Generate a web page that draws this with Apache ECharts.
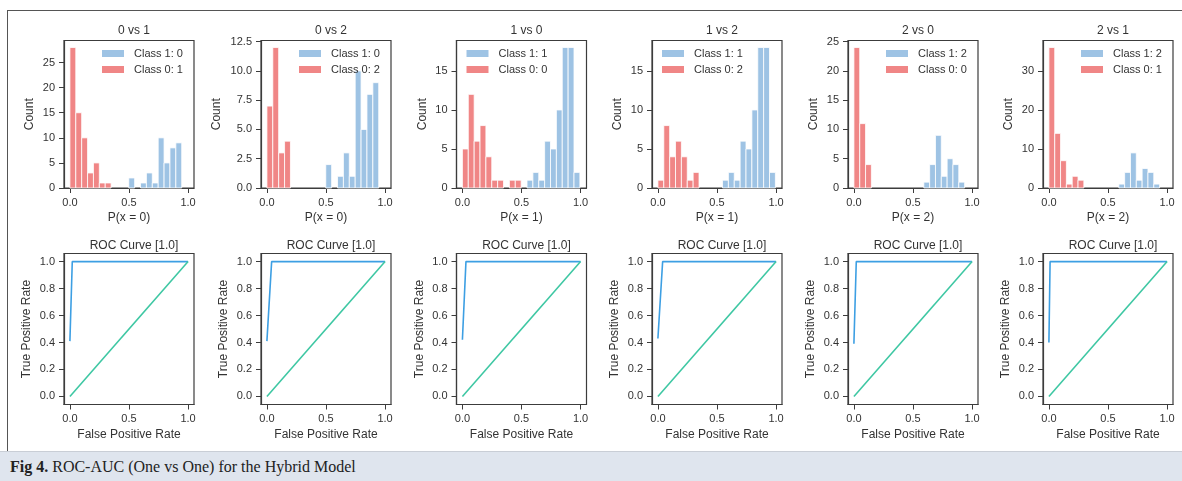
<!DOCTYPE html>
<html>
<head>
<meta charset="utf-8">
<script src="https://cdn.jsdelivr.net/npm/echarts@6/dist/echarts.min.js"></script>
<style>
  html, body { margin: 0; padding: 0; background: #fff; }
  #frame { position: absolute; left: 7px; top: 10px; width: 1175px; height: 441px;
           border-left: 1px solid #555; border-top: 1px solid #555; box-sizing: border-box; }
  #main { position: absolute; left: 0; top: 0; width: 1182px; height: 451px; }
  #caption { position: absolute; left: 0; top: 451px; width: 1182px; height: 30px;
             background: #dfe5ee; border-top: 1px solid #c9ced6; box-sizing: border-box;
             font-family: "Liberation Serif", "DejaVu Serif", serif; font-size: 16px;
             color: #222; line-height: 30px; padding-left: 10px; }
</style>
</head>
<body>
<div id="frame"></div>
<div id="main"></div>
<div id="caption"><b>Fig 4.</b> ROC-AUC (One vs One) for the Hybrid Model</div>
<script>
(function() {

    // panel texts
    var panelTitles = ['0 vs 1', '0 vs 2', '1 vs 0', '1 vs 2', '2 vs 0', '2 vs 1'];
    var probLabels = ['P(x = 0)', 'P(x = 0)', 'P(x = 1)', 'P(x = 1)', 'P(x = 2)', 'P(x = 2)'];
    var class1Names = ['Class 1: 0', 'Class 1: 0', 'Class 1: 1', 'Class 1: 1', 'Class 1: 2', 'Class 1: 2'];
    var class0Names = ['Class 0: 1', 'Class 0: 2', 'Class 0: 0', 'Class 0: 2', 'Class 0: 0', 'Class 0: 1'];
    var rocTitles = ['ROC Curve [1.0]', 'ROC Curve [1.0]', 'ROC Curve [1.0]', 'ROC Curve [1.0]', 'ROC Curve [1.0]', 'ROC Curve [1.0]'];

    // histogram bins (start at 0, one width per panel)
    var binWidths = [0.0498, 0.0498, 0.0497, 0.0497, 0.0493, 0.0493];

    // counts per bin, blue = class 1, red = class 0
    var blue01 = [0, 0, 0, 0, 0, 0, 0, 0, 0, 0, 2, 0, 1, 3, 1, 10, 5, 8, 9];
    var red01  = [28, 15, 10, 3, 5, 1, 1];
    var blue02 = [0, 0, 0, 0, 0, 0, 0, 0, 0, 0, 2, 0, 1, 3, 1, 10, 5, 8, 9];
    var red02  = [7, 12, 3, 4];
    var blue10 = [0, 0, 0, 0, 0, 0, 0, 0, 0, 0, 0, 1, 2, 1, 6, 5, 10, 18, 18, 2];
    var red10  = [5, 12, 6, 8, 4, 1, 1, 0, 1, 1];
    var blue12 = [0, 0, 0, 0, 0, 0, 0, 0, 0, 0, 0, 1, 2, 1, 6, 5, 10, 18, 18, 2];
    var red12  = [1, 8, 4, 6, 4, 1, 2];
    var blue20 = [0, 0, 0, 0, 0, 0, 0, 0, 0, 0, 0, 0, 1, 4, 9, 2, 5, 4, 1];
    var red20  = [24, 11, 4];
    var blue21 = [0, 0, 0, 0, 0, 0, 0, 0, 0, 0, 0, 0, 1, 4, 9, 2, 5, 4, 1];
    var red21  = [36, 14, 7, 1, 3, 2];

    var blueCounts = [blue01, blue02, blue10, blue12, blue20, blue21];
    var redCounts = [red01, red02, red10, red12, red20, red21];
    var countStep = [5, 2.5, 5, 5, 5, 10];

    // roc curves
    var rocFpr = [[0, 0.02, 1], [0, 0.04, 1], [0, 0.03, 1], [0, 0.04, 1], [0, 0.02, 1], [0, 0.01, 1]];
    var rocTpr = [[0.41, 1, 1], [0.41, 1, 1], [0.42, 1, 1], [0.43, 1, 1], [0.39, 1, 1], [0.40, 1, 1]];
    var chanceFpr = [0, 1];
    var chanceTpr = [0, 1];

    var legendSide = ['right', 'right', 'left', 'left', 'right', 'right'];

    // layout
    var colLeft = [64, 261, 456.5, 652, 848, 1043];
    var boxW = 130;
    var histTop = 40.5, histH = 147.5;
    var rocTop = 253.5, rocH = 151;

    var BLUE = '#9ec3e4', RED = '#f08686';
    var FONT = '"Liberation Sans", Arial, sans-serif';
    var TXT = '#333';

    var myChart = echarts.init(document.getElementById('main'));

    function renderBin(params, api) {
        var p0 = api.coord([api.value(0), 0]);
        var p1 = api.coord([api.value(1), api.value(2)]);
        return {
            type: 'rect',
            shape: { x: p0[0], y: p1[1], width: p1[0] - p0[0], height: p0[1] - p1[1] },
            style: { fill: api.visual('color'), stroke: '#fff', lineWidth: 0.8 }
        };
    }

    function binData(counts, w) {
        var out = [];
        for (var i = 0; i < counts.length; i++) {
            if (counts[i] > 0) out.push([i * w, (i + 1) * w, counts[i]]);
        }
        return out;
    }

    function ticksTo(max, step) {
        var v = [];
        for (var t = 0; t <= max + 1e-9; t += step) v.push(+t.toFixed(3));
        return v;
    }

    function fmt(d) {
        return function(v) { return v.toFixed(d); };
    }

    function axis(type, gi, min, max, name, gap, ticks, dec) {
        return {
            type: 'value', gridIndex: gi, min: min, max: max,
            name: name, nameGap: gap, nameLocation: 'middle',
            nameTextStyle: { fontSize: 12, color: TXT, fontFamily: FONT },
            axisLine: { show: true, onZero: false, lineStyle: { color: '#3c3c3c', width: 1.2 } },
            axisTick: { show: true, length: 5, customValues: ticks, lineStyle: { color: '#3c3c3c', width: 1 } },
            axisLabel: { fontSize: 11, color: TXT, fontFamily: FONT, margin: 9,
                customValues: ticks, formatter: fmt(dec) },
            splitLine: { show: false }
        };
    }

    var grids = [], xAxes = [], yAxes = [], series = [], titles = [], legends = [];
    var xTicks = [0, 0.5, 1];
    var rocYTicks = [0, 0.2, 0.4, 0.6, 0.8, 1];

    for (var p = 0; p < 6; p++) {
        var left = colLeft[p];
        var maxCount = Math.max.apply(null, blueCounts[p].concat(redCounts[p]));
        var yMax = maxCount * 1.05;
        var dec = countStep[p] % 1 ? 1 : 0;

        // histogram panel
        var h = grids.length;
        grids.push({ left: left, top: histTop, width: boxW, height: histH,
            show: true, borderColor: '#3c3c3c', borderWidth: 1.2 });
        titles.push({ text: panelTitles[p], left: left + boxW / 2, top: 20, textAlign: 'center',
            textStyle: { fontSize: 12, fontWeight: 'normal', color: TXT, fontFamily: FONT } });
        xAxes.push(axis('x', h, -0.05, 1.05, probLabels[p], 24, xTicks, 1));
        yAxes.push(axis('y', h, 0, yMax, 'Count', dec ? 38 : 28, ticksTo(yMax, countStep[p]), dec));

        series.push({ type: 'custom', name: class1Names[p], xAxisIndex: h, yAxisIndex: h,
            renderItem: renderBin, itemStyle: { color: BLUE }, encode: { x: [0, 1], y: 2 },
            data: binData(blueCounts[p], binWidths[p]) });
        series.push({ type: 'custom', name: class0Names[p], xAxisIndex: h, yAxisIndex: h,
            renderItem: renderBin, itemStyle: { color: RED }, encode: { x: [0, 1], y: 2 },
            data: binData(redCounts[p], binWidths[p]) });

        legends.push({
            orient: 'vertical', left: legendSide[p] === 'right' ? left + 38 : left + 10, top: 47,
            padding: 0, itemGap: 3, itemWidth: 22, itemHeight: 7, icon: 'rect',
            data: [class1Names[p], class0Names[p]],
            textStyle: { fontSize: 11, color: TXT, fontFamily: FONT, lineHeight: 13, padding: [0, 0, 0, 5] }
        });

        // roc panel
        var g = grids.length;
        grids.push({ left: left, top: rocTop, width: boxW, height: rocH,
            show: true, borderColor: '#3c3c3c', borderWidth: 1.2 });
        titles.push({ text: rocTitles[p], left: left + boxW / 2, top: 235, textAlign: 'center',
            textStyle: { fontSize: 12, fontWeight: 'normal', color: TXT, fontFamily: FONT } });
        xAxes.push(axis('x', g, -0.05, 1.05, 'False Positive Rate', 24, xTicks, 1));
        yAxes.push(axis('y', g, -0.06, 1.06, 'True Positive Rate', 31, rocYTicks, 1));

        var rocPts = [];
        for (var i = 0; i < rocFpr[p].length; i++) rocPts.push([rocFpr[p][i], rocTpr[p][i]]);
        var chancePts = [[chanceFpr[0], chanceTpr[0]], [chanceFpr[1], chanceTpr[1]]];

        series.push({ type: 'line', name: 'roc' + p, xAxisIndex: g, yAxisIndex: g,
            data: rocPts, showSymbol: false, symbol: 'none',
            lineStyle: { color: '#3d9fe3', width: 1.6 } });
        series.push({ type: 'line', name: 'chance' + p, xAxisIndex: g, yAxisIndex: g,
            data: chancePts, showSymbol: false, symbol: 'none',
            lineStyle: { color: '#3ec7a3', width: 1.6 } });
    }

    var option = {
        animation: false,
        title: titles,
        legend: legends,
        grid: grids,
        xAxis: xAxes,
        yAxis: yAxes,
        series: series
    };
    myChart.setOption(option);

})();
</script>
</body>
</html>
